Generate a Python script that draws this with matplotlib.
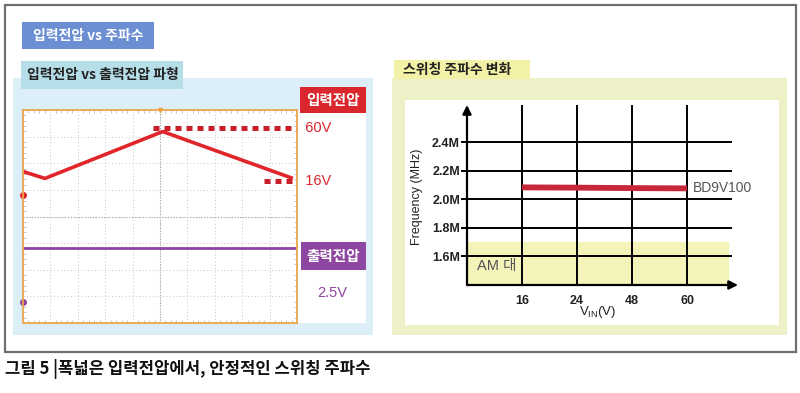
import matplotlib
matplotlib.use("Agg")
import matplotlib.pyplot as plt
import matplotlib.transforms as mtransforms
from matplotlib.patches import Rectangle
import numpy as np

# --- data -------------------------------------------------------------
# scope traces (time in divisions)
t_in = [0.0, 0.8, 5.1, 9.85]
v_in = [22.5, 16.0, 60.0, 16.0]          # input voltage, V
t_out = [0.0, 10.0]
v_out = [2.5, 2.5]                        # output voltage, V
marker_levels = [60, 16]                  # dotted markers on input trace
marker_labels = ["60V", "16V"]
marker_start = [4.75, 8.8]                # where each dotted marker begins (div)

# switching frequency vs input voltage
vin_labels = ["16", "24", "48", "60"]
freq_bd9v100 = [2.085, 2.083, 2.080, 2.078]   # MHz
freq_ticks = [1.6, 1.8, 2.0, 2.2, 2.4]
freq_tick_labels = ["1.6M", "1.8M", "2.0M", "2.2M", "2.4M"]
am_band = (1.40, 1.70)

# scope channel settings
ch1_gnd, ch1_scale = 0.79, 25.0    # div, V/div
ch2_gnd, ch2_scale = -3.2, 1.25

W, H = 800, 393
KR = "Noto Sans CJK KR"
LAT = ["Liberation Sans", KR]

fig = plt.figure(figsize=(W / 100, H / 100), dpi=100)


def px_axes(x0, y0, x1, y1):
    return fig.add_axes([x0 / W, 1 - y1 / H, (x1 - x0) / W, (y1 - y0) / H])


# base layer in pixel coordinates
base = fig.add_axes([0, 0, 1, 1])
base.set_xlim(0, W)
base.set_ylim(H, 0)
base.axis("off")


def box(x0, y0, x1, y1, fc, ec="none", lw=0):
    base.add_patch(Rectangle((x0, y0), x1 - x0, y1 - y0, facecolor=fc,
                             edgecolor=ec, linewidth=lw))


box(5, 5, 796, 352, "white", "#6f6f6f", 1.6)
box(22, 22, 154, 49, "#6C8FD3")
box(13, 78, 373, 335, "#DCEEF7")
box(21, 61, 183, 89, "#B6DEE9")
box(23, 110, 366, 323, "white")
box(300, 87, 366, 113, "#D9272D")
box(301, 242, 366, 270, "#8E47A0")
box(392, 78, 787, 335, "#EEF0C7")
box(394, 60, 530, 79, "#F2F1A6")
box(405, 100, 779, 325, "white")

base.text(88, 36, "입력전압 vs 주파수", family=KR, weight="bold", fontsize=10,
          color="white", ha="center", va="center")
base.text(27, 75, "입력전압 vs 출력전압 파형", family=KR, weight="bold",
          fontsize=10, color="#222222", ha="left", va="center")
base.text(403, 70, "스위칭 주파수 변화", family=KR, weight="bold", fontsize=10,
          color="#222222", ha="left", va="center")
base.text(333, 100, "입력전압", family=KR, weight="bold", fontsize=10.5,
          color="white", ha="center", va="center")
base.text(333, 256, "출력전압", family=KR, weight="bold", fontsize=10.5,
          color="white", ha="center", va="center")
base.text(5, 369, "그림 5 |폭넓은 입력전압에서, 안정적인 스위칭 주파수", family=KR,
          weight="bold", fontsize=12, color="#111111", ha="left", va="center")
base.text(332, 293, "2.5V", color="#8E44A0", fontsize=10.5, family=LAT,
          ha="center", va="center")

# --- oscilloscope panel -----------------------------------------------
sc = px_axes(23, 110, 297, 323)
sc.set_xlim(0, 10)
sc.set_ylim(-4, 4)
sc.set_facecolor("white")
for s in sc.spines.values():
    s.set_color("#EBA64C")
    s.set_linewidth(1.3)
sc.set_xticks(range(11))
sc.set_yticks(range(-4, 5))
sc.set_xticks(np.arange(0, 10.01, 0.2), minor=True)
sc.set_yticks(np.arange(-4, 4.01, 0.2), minor=True)
sc.tick_params(which="both", direction="in", top=True, right=True,
               labelleft=False, labelbottom=False, color="#b0b0b0")
sc.tick_params(which="major", length=0)
sc.tick_params(which="minor", length=2, width=0.5)
sc.grid(True, which="major", linestyle=(0, (1, 2.5)), color="#c4c4c4", lw=0.7)
sc.axvline(5, color="#a8a8a8", lw=0.8, linestyle=(0, (1, 1.5)))
sc.axhline(0, color="#a8a8a8", lw=0.8, linestyle=(0, (1, 1.5)))
sc.plot(5, 4, marker="v", ms=3, color="#EBA64C", clip_on=False)

y_in = [ch1_gnd + v / ch1_scale for v in v_in]
y_out = [ch2_gnd + v / ch2_scale for v in v_out]
sc.plot(t_in, y_in, color="#E0262B", lw=2.6, solid_capstyle="butt")
sc.plot(t_out, y_out, color="#8E44A0", lw=2.0)

offsets = [4, -3]
for lvl, lab, x0, off in zip(marker_levels, marker_labels, marker_start, offsets):
    tr = mtransforms.offset_copy(sc.transData, fig=fig, y=off, units="dots")
    y = ch1_gnd + lvl / ch1_scale
    sc.plot([x0, 10], [y, y], transform=tr, color="#C8202A", lw=3.6,
            linestyle=(0, (1.2, 1.0)), clip_on=False)
    sc.text(10, y, "  " + lab, transform=tr, color="#D9262B", fontsize=10.5,
            family=LAT, ha="left", va="center", clip_on=False)

sc.plot(0, ch1_gnd, marker="o", ms=4, color="#E0262B", clip_on=False)
sc.plot(0, ch2_gnd, marker="o", ms=4, color="#8E44A0", clip_on=False)

# --- switching frequency chart -----------------------------------------
fx = px_axes(467, 105, 738, 285)
x = np.arange(len(vin_labels))
fx.set_xlim(-1, 3.927)
fx.set_ylim(1.40, 2.663)
fx.patch.set_alpha(0)
for s in fx.spines.values():
    s.set_visible(False)

fx.fill_between([-1, 3.75], am_band[0], am_band[1], color="#F3F3BA", zorder=0)
fx.hlines(freq_ticks, -1, 3.82, color="black", lw=1.4, zorder=1)
fx.vlines(x, 1.40, 2.663, color="black", lw=1.4, zorder=1)
fx.plot(x, freq_bd9v100, color="#C6283A", lw=4.2, solid_capstyle="butt", zorder=3)

arrow = dict(arrowstyle="-|>", lw=1.6, color="black", mutation_scale=13,
             shrinkA=0, shrinkB=0)
fx.annotate("", xy=(0, 1), xytext=(0, 0), xycoords="axes fraction",
            arrowprops=arrow, zorder=4)
fx.annotate("", xy=(1, 0), xytext=(0, 0), xycoords="axes fraction",
            arrowprops=arrow, zorder=4)

fx.set_yticks(freq_ticks)
fx.set_yticklabels(freq_tick_labels, family=LAT, fontsize=9, weight="bold",
                   color="#222222")
fx.set_xticks(x)
fx.set_xticklabels(vin_labels, family=LAT, fontsize=9, weight="bold",
                   color="#222222")
fx.tick_params(axis="y", length=4, width=1.4, pad=1)
fx.tick_params(axis="x", length=0, pad=7)

fx.text(-0.184, 0.49, "Frequency (MHz)", transform=fx.transAxes, rotation=90,
        family=LAT, fontsize=9, color="#222222", ha="center", va="center")
fx.text(0.483, -0.15, r"V$_{\mathregular{IN}}$(V)", transform=fx.transAxes,
        family=LAT, fontsize=9.5, color="#222222", ha="center", va="center")
fx.text(3.1, freq_bd9v100[-1], "BD9V100", family=LAT, fontsize=10,
        color="#555555", ha="left", va="center")
fx.text(-0.82, 1.53, "AM 대", family=LAT, fontsize=10.5, color="#555555",
        ha="left", va="center")

fig.savefig("out.png", dpi=100)
